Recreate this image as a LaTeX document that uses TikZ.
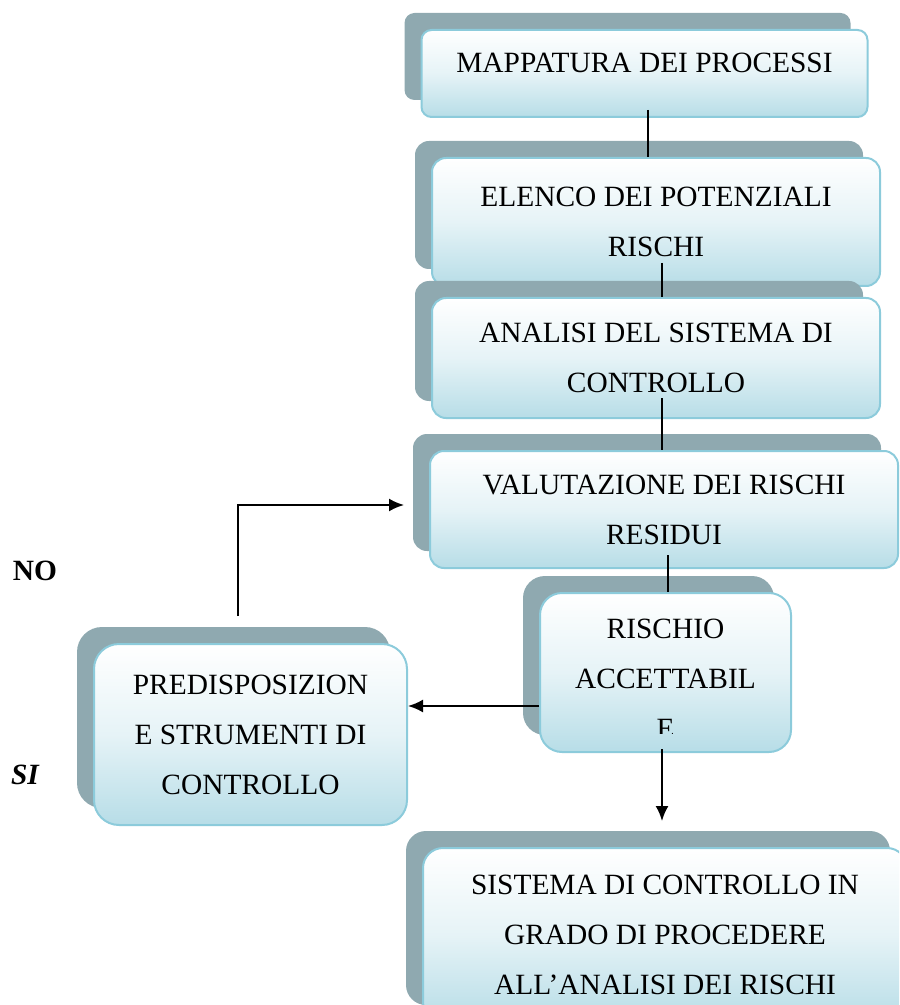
\documentclass[tikz,border=0pt]{standalone}
\usepackage{fontspec}
\setmainfont{Liberation Serif}
\usepackage{tikz}
\usetikzlibrary{arrows,arrows.meta,shapes,positioning,shadows}
\definecolor{pmshadow}{RGB}{143,169,176}
\definecolor{pmborder}{RGB}{140,203,219}
\definecolor{pmfill}{RGB}{183,221,231}
\tikzstyle{box} = [draw=pmborder, line width=1pt, inner sep=0pt, rounded corners=5pt,
  top color=white, bottom color=pmfill, middle color=pmfill!35, align=center,
  font=\fontsize{14.7}{25}\selectfont,
  drop shadow={shadow xshift=-8.5pt, shadow yshift=8.5pt, fill=pmshadow, opacity=1}]
\tikzstyle{conn} = [line width=1pt, black]
\tikzstyle{arrow} = [line width=1pt, ->, >={Latex[length=7.5pt,width=6.5pt]}, black]

\begin{document}
\begin{tikzpicture}[x=0.5pt, y=-0.5pt]
\useasboundingbox (0,0) rectangle (899,1005);
\clip (0,0) rectangle (899,1005);

% Boxes
\node[box, minimum width=223pt, minimum height=43.5pt, text depth=11pt] (mappatura) at (644.5,73.5) {MAPPATURA DEI PROCESSI};
\node[box, minimum width=224pt, minimum height=64pt, rounded corners=7pt] (elenco) at (656,222) {ELENCO DEI POTENZIALI\\RISCHI};
\node[box, minimum width=224pt, minimum height=60pt, rounded corners=7pt] (analisi) at (656,358) {ANALISI DEL SISTEMA DI\\CONTROLLO};
\node[box, minimum width=234pt, minimum height=58.5pt, rounded corners=7pt] (valutazione) at (664,509.5) {VALUTAZIONE DEI RISCHI\\RESIDUI};
\node[box, minimum width=125.5pt, minimum height=79.5pt, rounded corners=11pt] (accettabile) at (665.5,672.5) {\rule{0pt}{15.7pt}RISCHIO\\ACCETTABIL\\\phantom{E}};
\node[box, minimum width=156.5pt, minimum height=90.5pt, rounded corners=12.5pt] (strumenti) at (250.5,734.5) {PREDISPOSIZION\\E STRUMENTI DI\\CONTROLLO};
\node[box, minimum width=242pt, minimum height=87pt, rounded corners=10pt] (sistema) at (665,935) {SISTEMA DI CONTROLLO IN\\GRADO DI PROCEDERE\\ALL’ANALISI DEI RISCHI};

% Cut last letter
\begin{scope}
\clip (500,560) rectangle (800,733);
\node[anchor=base, font=\fontsize{14.7}{25}\selectfont, inner sep=0pt] (lettera) at ([shift={(0,65.7)}]accettabile.center) {E};
\end{scope}

% Connectors
\draw[conn] ([shift={(3.5,-8)}]mappatura.south) -- ([shift={(3.5,0)}]mappatura.south |- elenco.north);
\draw[conn] ([shift={(6,-24)}]elenco.south) -- ([shift={(6,0)}]elenco.south |- analisi.north);
\draw[conn] ([shift={(6,-21)}]analisi.south) -- ([shift={(6,0)}]analisi.south |- valutazione.north);
\draw[conn] ([shift={(4,-14)}]valutazione.south) -- ([shift={(4,0)}]valutazione.south |- accettabile.north);
\draw[arrow] ([shift={(-3.5,-4)}]accettabile.south) -- ([shift={(-3.5,-26)}]accettabile.south |- sistema.north);
\draw[arrow] ([shift={(0,33.5)}]accettabile.west) -- ([shift={(0,33.5)}]accettabile.west -| strumenti.east);
\draw[arrow] ([shift={(-12.5,-27)}]strumenti.north) |- ([shift={(-25,-4.5)}]valutazione.west);

% Labels
\node[font=\fontsize{14.7}{25}\selectfont\bfseries] (no) at (35,571) {NO};
\node[font=\fontsize{14.7}{25}\selectfont\bfseries\itshape] (si) at (25,775) {SI};
\end{tikzpicture}
\end{document}
